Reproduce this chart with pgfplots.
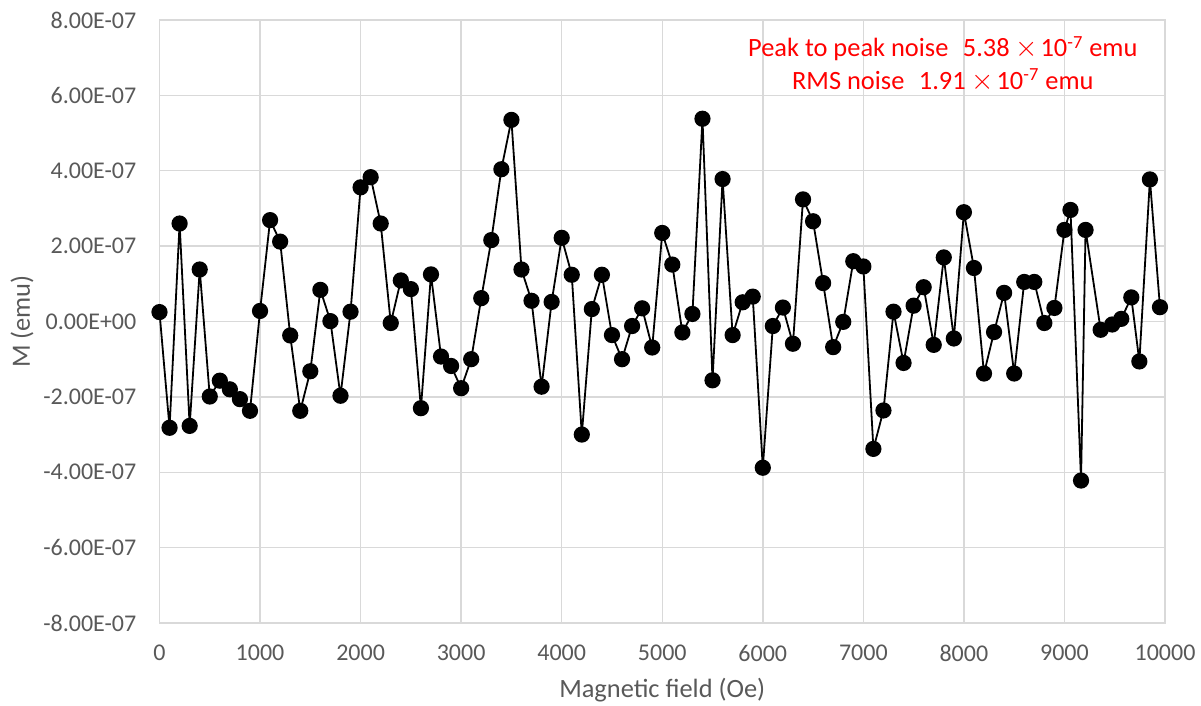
\documentclass[border=0pt]{standalone}
\usepackage{fontspec}
\setmainfont{Carlito}
\usepackage{pgfplots}
\pgfplotsset{compat=1.18}
\definecolor{gridc}{HTML}{D9D9D9}
\definecolor{labc}{HTML}{595959}
\newcommand{\fs}[1]{\fontsize{#1}{#1}\selectfont}
\newcommand{\tms}{\hspace{0.22em}\smash{\fontsize{14.5pt}{14.5pt}\selectfont$\times$}\hspace{0.1em}}

\begin{document}
\begin{tikzpicture}
\useasboundingbox (-79.75pt,-41.5pt) rectangle (520.75pt,311.5pt);
\begin{axis}[
  at={(0,0)}, anchor=south west,
  scale only axis, width=502.75pt, height=301.5pt,
  xmin=0, xmax=10000, ymin=-8e-7, ymax=8e-7,
  xtick={0,1000,...,10000},
  xticklabels={0,1000,2000,3000,4000,5000,6000,7000,8000,9000,10000},
  ytick={-8e-7,-6e-7,-4e-7,-2e-7,0,2e-7,4e-7,6e-7,8e-7},
  yticklabels={-8.00E-07,-6.00E-07,-4.00E-07,-2.00E-07,0.00E+00,2.00E-07,4.00E-07,6.00E-07,8.00E-07},
  scaled ticks=false,
  major tick length=0pt,
  grid=major, grid style={gridc, line width=0.7pt},
  axis line style={gridc, line width=0.7pt},
  xticklabel style={font=\fs{12pt}, text=labc, anchor=north, inner sep=0pt, yshift=-11pt},
  yticklabel style={font=\fs{12pt}, text=labc, anchor=east, inner sep=0pt, xshift=-11.4pt},
  xlabel={Magnetic field (Oe)}, ylabel={M (emu)},
  every axis x label/.style={at={(axis description cs:0.5,-0.1237)}, anchor=base,
    font=\fs{13.2pt}, text=labc},
  every axis y label/.style={at={(axis description cs:-0.1367,0.5)}, anchor=center,
    rotate=90, font=\fs{13.2pt}, text=labc},
  clip=false,
]
\addplot[black, line width=0.9pt, mark=*, mark size=3.6pt, mark options={fill=black}]
table {
x y
0 0.25e-7
100 -2.82e-7
200 2.60e-7
300 -2.77e-7
400 1.38e-7
500 -1.99e-7
600 -1.57e-7
700 -1.80e-7
800 -2.06e-7
900 -2.37e-7
1000 0.28e-7
1100 2.69e-7
1200 2.12e-7
1300 -0.37e-7
1400 -2.37e-7
1500 -1.32e-7
1600 0.84e-7
1700 0.01e-7
1800 -1.97e-7
1900 0.26e-7
2000 3.56e-7
2100 3.83e-7
2200 2.60e-7
2300 -0.04e-7
2400 1.09e-7
2500 0.86e-7
2600 -2.30e-7
2700 1.25e-7
2800 -0.93e-7
2900 -1.18e-7
3000 -1.77e-7
3100 -1.00e-7
3200 0.62e-7
3300 2.16e-7
3400 4.04e-7
3500 5.35e-7
3600 1.38e-7
3700 0.55e-7
3800 -1.73e-7
3900 0.52e-7
4000 2.22e-7
4100 1.24e-7
4200 -3.00e-7
4300 0.33e-7
4400 1.24e-7
4500 -0.36e-7
4600 -1.00e-7
4700 -0.12e-7
4800 0.35e-7
4900 -0.69e-7
5000 2.35e-7
5100 1.51e-7
5200 -0.29e-7
5300 0.20e-7
5400 5.38e-7
5500 -1.56e-7
5600 3.78e-7
5700 -0.36e-7
5800 0.51e-7
5900 0.66e-7
6000 -3.88e-7
6100 -0.12e-7
6200 0.37e-7
6300 -0.59e-7
6400 3.24e-7
6500 2.66e-7
6600 1.02e-7
6700 -0.68e-7
6800 -0.01e-7
6900 1.60e-7
7000 1.46e-7
7100 -3.38e-7
7200 -2.36e-7
7300 0.26e-7
7400 -1.10e-7
7500 0.42e-7
7600 0.91e-7
7700 -0.62e-7
7800 1.70e-7
7900 -0.45e-7
8000 2.90e-7
8100 1.42e-7
8200 -1.38e-7
8300 -0.28e-7
8400 0.76e-7
8500 -1.38e-7
8600 1.05e-7
8700 1.05e-7
8800 -0.04e-7
8900 0.36e-7
9000 2.43e-7
9060 2.96e-7
9165 -4.22e-7
9210 2.43e-7
9360 -0.22e-7
9475 -0.08e-7
9565 0.07e-7
9665 0.64e-7
9745 -1.06e-7
9850 3.77e-7
9950 0.38e-7
};
\node[anchor=base, text=red, font=\fs{13.2pt}, inner sep=0pt]
  at (axis description cs:0.779,0.939) {Peak to peak noise\hspace{0.55em}5.38\tms10\textsuperscript{-7} emu};
\node[anchor=base, text=red, font=\fs{13.2pt}, inner sep=0pt]
  at (axis description cs:0.779,0.885) {RMS noise\hspace{0.55em}1.91\tms10\textsuperscript{-7} emu};
\end{axis}
\end{tikzpicture}
\end{document}
